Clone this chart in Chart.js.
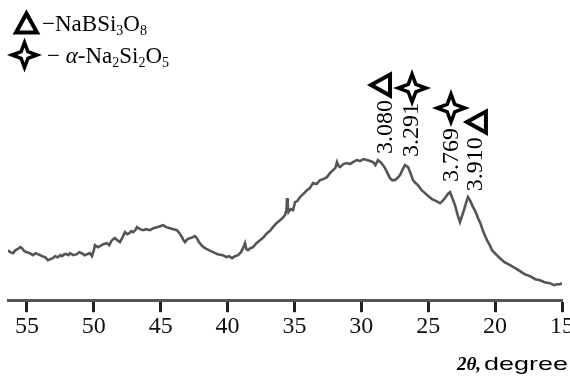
<!DOCTYPE html>
<html><head><meta charset="utf-8">
<script src="https://cdn.jsdelivr.net/npm/chart.js@4.4.0/dist/chart.umd.min.js"></script>
<style>
html,body{margin:0;padding:0;background:#fff;overflow:hidden;}
#wrap{position:relative;width:580px;height:384px;}
</style></head><body>
<div id="wrap"><canvas id="c" width="580" height="384"></canvas></div>
<script>
// ---- data ----
const twoTheta = [
 56.42,56.25,56.05,55.85,55.70,55.50,55.37,55.20,55.00,54.80,
 54.55,54.35,54.20,54.00,53.88,53.65,53.43,53.25,53.06,52.90,
 52.70,52.50,52.38,52.20,52.05,51.90,51.79,51.55,51.26,51.10,
 50.90,50.70,50.51,50.30,50.14,50.00,49.92,49.70,49.54,49.30,
 49.02,48.85,48.70,48.55,48.42,48.25,48.05,47.85,47.67,47.50,
 47.35,47.20,47.07,46.90,46.78,46.55,46.33,46.10,45.80,45.55,
 45.28,45.05,44.83,44.60,44.31,44.05,43.79,43.60,43.41,43.30,
 43.19,43.00,42.81,42.59,42.45,42.29,42.15,42.07,41.90,41.69,
 41.40,41.09,40.75,40.35,40.10,39.90,39.67,39.45,39.22,39.00,
 38.85,38.70,38.60,38.48,38.30,38.10,37.85,37.58,37.30,37.06,
 36.85,36.61,36.35,36.08,35.90,35.71,35.60,35.56,35.50,35.45,
 35.30,35.11,34.96,34.80,34.59,34.35,34.07,33.85,33.62,33.35,
 33.09,32.85,32.57,32.35,32.12,31.95,31.82,31.70,31.60,31.35,
 31.07,30.85,30.63,30.35,30.10,29.85,29.58,29.35,29.13,28.95,
 28.76,28.50,28.23,28.05,27.86,27.70,27.49,27.30,27.11,26.90,
 26.74,26.51,26.30,26.14,25.95,25.77,25.50,25.24,25.00,24.72,
 24.40,24.12,23.95,23.75,23.55,23.37,23.20,23.00,22.80,22.63,
 22.48,22.33,22.18,22.03,21.85,21.65,21.45,21.28,21.10,20.98,
 20.80,20.61,20.40,20.23,19.95,19.64,19.30,18.89,18.50,18.14,
 17.80,17.39,17.00,16.64,16.30,15.90,15.60,15.37,15.15,15.00];
const intensity = [
 50,48,47,50,51,53,52,49,48,47,
 45,47,46,45,44,43,40,41,42,44,
 43,45,44,46,46,45,47,45,46,48,
 47,45,46,47,44,50,55,53,54,56,
 57,55,59,61,62,60,58,63,68,66,
 67,69,68,70,73,71,70,71,70,72,
 73,74,75,73,72,71,70,67,63,60,
 58,61,62,63,64,62,58,57,54,52,
 50,48,46,45,43,44,42,44,45,48,
 52,57,51,50,52,53,57,60,63,67,
 69,73,77,80,82,85,90,102,92,88,
 91,90,98,99,103,106,110,112,117,116,
 120,121,123,127,130,132,138,134,133,136,
 137,136,138,140,139,141,140,139,138,135,
 140,137,132,127,122,120,120,122,125,131,
 135,133,126,120,117,115,110,107,104,101,
 99,97,99,102,106,108,102,95,85,78,
 84,90,97,103,99,93,88,82,77,72,
 66,60,55,50,46,42,38,35,32,29,
 26,24,21,20,18,17,15,16,16,17];
const tickValues = [55,50,45,40,35,30,25,20,15];
const peakLabels = ['3.080','3.291','3.769','3.910'];
const peakPhase = ['NaBSi3O8','alpha-Na2Si2O5','alpha-Na2Si2O5','NaBSi3O8'];

// ---- annotation placement (data units) ----
const peakTextX = [27.71,25.77,22.78,20.98];
const peakTextY = [146,143,118,109];
const peakMarkX = [28.53,26.21,23.30,21.36];
const peakMarkY = [215,212,192,178];

const SERIF = '"Liberation Serif", "Times New Roman", Times, serif';
const SANS = '"Liberation Sans", Arial, Helvetica, sans-serif';

function drawTriangle(ctx, cx, cy, dir){
  ctx.beginPath();
  if(dir==='up'){
    ctx.moveTo(cx, cy-10); ctx.lineTo(cx+10.5, cy+9); ctx.lineTo(cx-10.5, cy+9);
  } else {
    ctx.moveTo(cx-10, cy); ctx.lineTo(cx+9, cy-10.5); ctx.lineTo(cx+9, cy+10.5);
  }
  ctx.closePath();
  ctx.lineWidth = 4; ctx.lineJoin='miter'; ctx.strokeStyle='#000'; ctx.stroke();
}
function drawStar(ctx, cx, cy, r){
  const a = r*0.27;
  ctx.beginPath();
  ctx.moveTo(cx, cy-r); ctx.lineTo(cx+a, cy-a); ctx.lineTo(cx+r, cy); ctx.lineTo(cx+a, cy+a);
  ctx.lineTo(cx, cy+r); ctx.lineTo(cx-a, cy+a); ctx.lineTo(cx-r, cy); ctx.lineTo(cx-a, cy-a);
  ctx.closePath();
  ctx.lineWidth = 3.5; ctx.lineJoin='miter'; ctx.strokeStyle='#000'; ctx.stroke();
}
function drawRich(ctx, x, y, parts){
  for(const [t,k] of parts){
    if(k==='s'){ ctx.font='14px '+SERIF; ctx.fillText(t,x,y+4); }
    else if(k==='i'){ ctx.font='italic 23px '+SERIF; ctx.fillText(t,x,y); }
    else { ctx.font='23px '+SERIF; ctx.fillText(t,x,y); }
    x += ctx.measureText(t).width;
  }
}

const annotPlugin = {
  id:'annot',
  afterDraw(chart){
    const ctx = chart.ctx, xs = chart.scales.x, ys = chart.scales.y;
    ctx.save();
    ctx.fillStyle='#000';
    for(let i=0;i<peakLabels.length;i++){
      const px = xs.getPixelForValue(peakTextX[i]), py = ys.getPixelForValue(peakTextY[i]);
      ctx.save(); ctx.translate(px,py); ctx.rotate(-Math.PI/2);
      ctx.font='24px '+SERIF; ctx.textAlign='left'; ctx.textBaseline='alphabetic';
      ctx.fillText(peakLabels[i],0,0); ctx.restore();
      const mx = xs.getPixelForValue(peakMarkX[i]), my = ys.getPixelForValue(peakMarkY[i]);
      if(peakPhase[i]==='NaBSi3O8') drawTriangle(ctx,mx,my,'left'); else drawStar(ctx,mx,my,14);
    }
    drawTriangle(ctx,26.5,23.5,'up');
    ctx.textAlign='left'; ctx.textBaseline='alphabetic'; ctx.fillStyle='#000';
    drawRich(ctx,42,31,[['\u2212','n'],['NaBSi','n'],['3','s'],['O','n'],['8','s']]);
    drawStar(ctx,24.5,55,12.5);
    drawRich(ctx,47,63,[['\u2212 ','n'],['\u03b1','i'],['-Na','n'],['2','s'],['Si','n'],['2','s'],['O','n'],['5','s']]);
    ctx.font='italic bold 19px '+SERIF;
    ctx.fillText('2\u03b8,',457,370);
    ctx.save(); ctx.translate(484,370); ctx.scale(1.42,1);
    ctx.font='19px '+SANS; ctx.fillText('degree',0,0); ctx.restore();
    ctx.restore();
  }
};

new Chart(document.getElementById('c').getContext('2d'), {
  type:'line',
  data:{datasets:[{data: twoTheta.map((x,i)=>({x:x, y:intensity[i]})), borderColor:'#555555', borderWidth:2.6, pointRadius:0, tension:0, fill:false}]},
  options:{
    responsive:false, animation:false, devicePixelRatio:1,
    layout:{padding:{left:8, right:18, top:0, bottom:43}},
    plugins:{legend:{display:false}, tooltip:{enabled:false}},
    scales:{
      x:{type:'linear', reverse:true, min:15, max:56.42,
        afterBuildTicks: s => { s.ticks = tickValues.map(v=>({value:v})); },
        ticks:{autoSkip:false, maxRotation:0, padding:0, color:'#111', font:{family:SERIF, size:24}, callback:v=>String(v)},
        grid:{drawOnChartArea:false, drawTicks:true, tickLength:12, tickWidth:3, tickColor:'#222'},
        border:{display:true, color:'#555', width:3}
      },
      y:{display:false, min:0, max:300}
    }
  },
  plugins:[annotPlugin]
});
</script>
</body></html>
